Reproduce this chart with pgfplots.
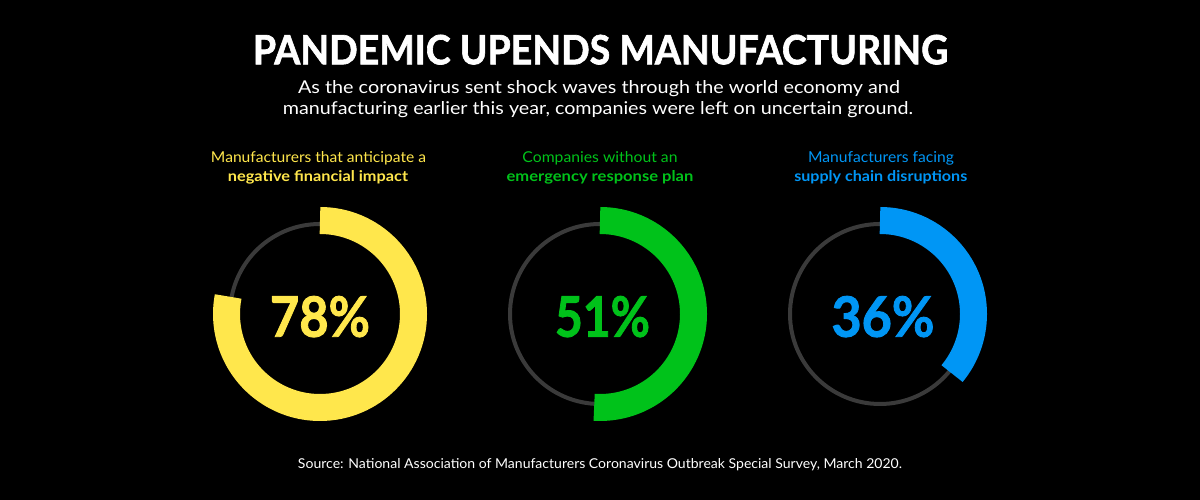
\documentclass[border=0pt]{standalone}
\usepackage{pgfplots}
\pgfplotsset{compat=1.18}
\usepackage{pgfplotstable}
\usepackage{graphicx}
\usepackage{fontspec}
\setmainfont{Lato}
\newfontfamily\heavy{Lato}[BoldFeatures={FakeBold=1.6}]
\definecolor{cyel}{RGB}{255,231,76}
\definecolor{cgrn}{RGB}{0,194,26}
\definecolor{cblu}{RGB}{0,150,245}
\definecolor{cring}{RGB}{58,58,58}
\pgfplotstableread{
cx cy value
320 186 78
600 186 51
880 186 36
}\donutdata
\begin{document}
\begin{tikzpicture}
\pgfplotstablegetelem{0}{value}\of\donutdata \edef\vA{\pgfplotsretval}
\pgfplotstablegetelem{1}{value}\of\donutdata \edef\vB{\pgfplotsretval}
\pgfplotstablegetelem{2}{value}\of\donutdata \edef\vC{\pgfplotsretval}
\fill[black] (0pt,0pt) rectangle (1200pt,500pt);
\begin{axis}[at={(0pt,0pt)}, anchor=south west, scale only axis,
  width=1200pt, height=500pt, xmin=0, xmax=1200, ymin=0, ymax=500,
  axis lines=none, ticks=none, clip=false]
% rings
\draw[cring, line width=4pt] (axis cs:320,186) circle[radius=90pt];
\draw[cring, line width=4pt] (axis cs:600,186) circle[radius=90pt];
\draw[cring, line width=4pt] (axis cs:880,186) circle[radius=90pt];
% arcs from data
\draw[cyel, line width=27pt] (axis cs:320,186) ++(90:93.5pt) arc[start angle=90, end angle={90-3.6*\vA}, radius=93.5pt];
\draw[cgrn, line width=27pt] (axis cs:600,186) ++(90:93.5pt) arc[start angle=90, end angle={90-3.6*\vB}, radius=93.5pt];
\draw[cblu, line width=27pt] (axis cs:880,186) ++(90:93.5pt) arc[start angle=90, end angle={90-3.6*\vC}, radius=93.5pt];
% percentages
\node[anchor=base, inner sep=0pt, cyel] at (axis cs:320,163.3) {\resizebox{100pt}{40.7pt}{\heavy\bfseries \vA\%}};
\node[anchor=base, inner sep=0pt, cgrn] at (axis cs:602.5,163.3) {\resizebox{95pt}{40.7pt}{\heavy\bfseries \vB\%}};
\node[anchor=base, inner sep=0pt, cblu] at (axis cs:883,163.3) {\resizebox{103pt}{40.7pt}{\heavy\bfseries \vC\%}};
% title
\node[anchor=base, inner sep=0pt, white] at (axis cs:600.5,435.7) {\resizebox{695pt}{29.5pt}{\heavy\bfseries PANDEMIC UPENDS MANUFACTURING}};
\node[anchor=base, inner sep=0pt, white] at (axis cs:599,406) {\resizebox{602pt}{13pt}{As the coronavirus sent shock waves through the world economy and}};
\node[anchor=base, inner sep=0pt, white] at (axis cs:598,385) {\resizebox{630pt}{13pt}{manufacturing earlier this year, companies were left on uncertain ground.}};
% labels
\node[anchor=base, inner sep=0pt, cyel] at (axis cs:318.5,337.7) {\resizebox{215pt}{11pt}{Manufacturers that anticipate a}};
\node[anchor=base, inner sep=0pt, cyel] at (axis cs:318,318.3) {\resizebox{180pt}{11pt}{\bfseries negative financial impact}};
\node[anchor=base, inner sep=0pt, cgrn] at (axis cs:600,337.7) {\resizebox{155pt}{11pt}{Companies without an}};
\node[anchor=base, inner sep=0pt, cgrn] at (axis cs:600,318.3) {\resizebox{186.7pt}{11pt}{\bfseries emergency response plan}};
\node[anchor=base, inner sep=0pt, cblu] at (axis cs:881,337.7) {\resizebox{145.7pt}{11pt}{Manufacturers facing}};
\node[anchor=base, inner sep=0pt, cblu] at (axis cs:880.8,318.3) {\resizebox{173pt}{11pt}{\bfseries supply chain disruptions}};
% source
\node[anchor=base, inner sep=0pt, white] at (axis cs:600,31.7) {\resizebox{604pt}{10pt}{Source: National Association of Manufacturers Coronavirus Outbreak Special Survey, March 2020.}};
\end{axis}
\end{tikzpicture}
\end{document}
